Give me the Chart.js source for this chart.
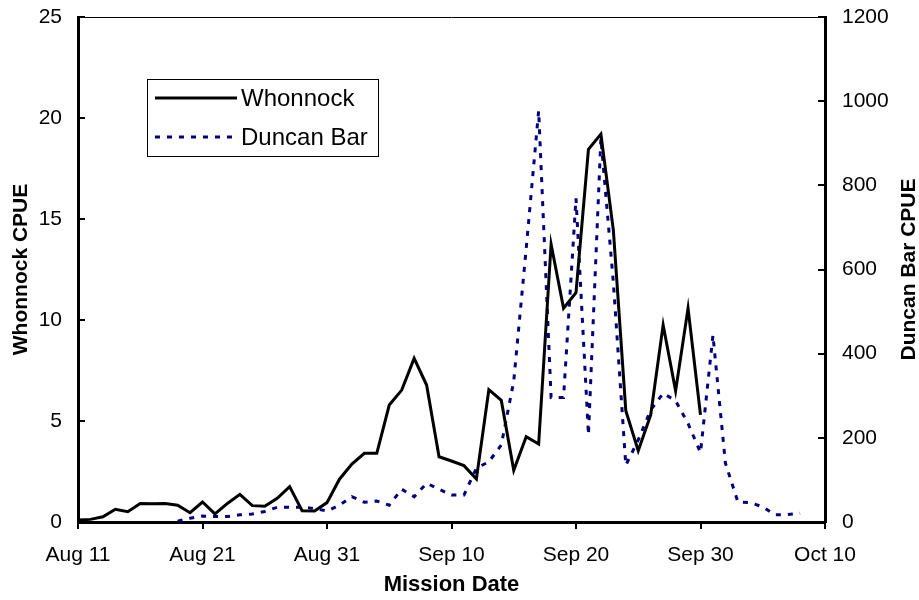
<!DOCTYPE html>
<html>
<head>
<meta charset="utf-8">
<script src="https://cdn.jsdelivr.net/npm/chart.js@4.4.1/dist/chart.umd.min.js"></script>
<style>
  html, body { margin: 0; padding: 0; background: #fff; }
  #wrap { width: 919px; height: 600px; position: relative; }
</style>
</head>
<body>
<div id="wrap"><canvas id="cpueChart"></canvas></div>
<script>
// ================== DATA ==================
const tickLabels = ["Aug 11", "Aug 21", "Aug 31", "Sep 10", "Sep 20", "Sep 30", "Oct 10"];
const seriesNames = ["Whonnock", "Duncan Bar"];

// daily values, day 0 = Aug 11
const whonnock = [
  0.1, 0.13, 0.26, 0.63, 0.51, 0.92, 0.9, 0.92, 0.83, 0.46,
  0.99, 0.4, 0.92, 1.37, 0.81, 0.78, 1.17, 1.75, 0.56, 0.54,
  0.96, 2.12, 2.87, 3.4, 3.4, 5.79, 6.53, 8.1, 6.78, 3.23,
  3.02, 2.79, 2.13, 6.55, 6.02, 2.56, 4.22, 3.86, 13.75, 10.58,
  11.35, 18.45, 19.2, 14.45, 5.51, 3.53, 5.3, 9.75, 6.49, 10.58,
  5.3
];

// Duncan Bar starts on day 8 (Aug 19)
const duncanStartDay = 8;
const duncanBar = [
  2, 9, 14, 13, 13, 17, 19, 25, 35, 35,
  35, 32, 26, 40, 60, 47, 50, 40, 78, 60,
  92, 78, 64, 64, 128, 143, 183, 335, 650, 977,
  296, 296, 769, 207, 912, 570, 135, 195, 266, 306,
  288, 234, 165, 444, 140, 48, 46, 36, 17, 18,
  21
];

const FONT = "'Liberation Sans', Arial, Helvetica, sans-serif";

// fixed axis box sizes so the plot sits where the original does
function fitVertical(width) {
  return (s) => {
    s.width = width;
    s.paddingTop = 0;
    s.paddingBottom = 0;
  };
}

// ================== PLUGIN: frame, inner ticks, right title, legend ==================
const extrasPlugin = {
  id: "extras",
  afterDraw(chart) {
    const { ctx, chartArea: area, scales } = chart;
    ctx.save();

    // thin top border
    ctx.strokeStyle = "#000";
    ctx.lineWidth = 1;
    ctx.beginPath();
    ctx.moveTo(area.left, area.top + 0.5);
    ctx.lineTo(area.right, area.top + 0.5);
    ctx.stroke();

    // inward tick marks on both y axes
    ctx.lineWidth = 2;
    scales.y.ticks.forEach((t) => {
      const py = Math.round(scales.y.getPixelForValue(t.value));
      ctx.beginPath();
      ctx.moveTo(area.left, py);
      ctx.lineTo(area.left + 7, py);
      ctx.stroke();
    });
    scales.y2.ticks.forEach((t) => {
      const py = Math.round(scales.y2.getPixelForValue(t.value));
      ctx.beginPath();
      ctx.moveTo(area.right - 7, py);
      ctx.lineTo(area.right, py);
      ctx.stroke();
    });

    // right axis title, reading bottom to top
    ctx.fillStyle = "#000";
    ctx.font = "bold 21px " + FONT;
    ctx.textAlign = "center";
    ctx.textBaseline = "middle";
    ctx.translate(909, (area.top + area.bottom) / 2);
    ctx.rotate(-Math.PI / 2);
    ctx.fillText("Duncan Bar CPUE", 0, 0);
    ctx.restore();

    // legend box
    ctx.save();
    ctx.fillStyle = "#fff";
    ctx.fillRect(147, 79, 231, 77);
    ctx.strokeStyle = "#000";
    ctx.lineWidth = 1;
    ctx.strokeRect(147.5, 79.5, 231, 77);

    const rows = [98, 137];
    chart.data.datasets.forEach((ds, i) => {
      const y = rows[i];
      ctx.strokeStyle = ds.borderColor;
      ctx.lineWidth = ds.borderWidth;
      ctx.setLineDash(ds.borderDash || []);
      ctx.beginPath();
      ctx.moveTo(155, y);
      ctx.lineTo(237, y);
      ctx.stroke();
      ctx.setLineDash([]);
      ctx.fillStyle = "#000";
      ctx.font = "24px " + FONT;
      ctx.textAlign = "left";
      ctx.textBaseline = "middle";
      ctx.fillText(ds.label, 241, y + 1);
    });
    ctx.restore();
  },
};

// ================== CHART ==================
const ctx = document.getElementById("cpueChart");

new Chart(ctx, {
  type: "line",
  data: {
    datasets: [
      {
        label: seriesNames[0],
        data: whonnock.map((v, i) => ({ x: i, y: v })),
        borderColor: "#000000",
        borderWidth: 3,
        pointRadius: 0,
        tension: 0,
        yAxisID: "y",
      },
      {
        label: seriesNames[1],
        data: duncanBar.map((v, i) => ({ x: duncanStartDay + i, y: v })),
        borderColor: "#000080",
        borderWidth: 3,
        borderDash: [5, 7],
        pointRadius: 0,
        tension: 0,
        yAxisID: "y2",
      },
    ],
  },
  options: {
    responsive: true,
    maintainAspectRatio: false,
    animation: false,
    layout: { padding: { top: 17, left: 0, right: 0, bottom: 0 } },
    plugins: {
      legend: { display: false },
      tooltip: { enabled: false },
    },
    scales: {
      x: {
        type: "linear",
        min: 0,
        max: 60,
        afterFit: (s) => { s.height = 78; },
        afterBuildTicks: (s) => {
          s.ticks = tickLabels.map((_, i) => ({ value: i * 10 }));
        },
        ticks: {
          callback: (v) => tickLabels[v / 10],
          font: { family: FONT, size: 21 },
          color: "#000",
          padding: 14,
          maxRotation: 0,
          autoSkip: false,
        },
        grid: {
          drawOnChartArea: false,
          drawTicks: true,
          tickLength: 7,
          color: "#000",
          lineWidth: 2,
        },
        border: { display: true, color: "#000", width: 3 },
        title: {
          display: true,
          text: "Mission Date",
          font: { family: FONT, size: 22, weight: "bold" },
          color: "#000",
          padding: { top: 0, bottom: 2 },
        },
      },
      y: {
        position: "left",
        min: 0,
        max: 25,
        afterFit: fitVertical(78),
        ticks: {
          stepSize: 5,
          font: { family: FONT, size: 21 },
          color: "#000",
          padding: 16,
        },
        grid: { display: false, drawTicks: false },
        border: { display: true, color: "#000", width: 3 },
        title: {
          display: true,
          text: "Whonnock CPUE",
          font: { family: FONT, size: 21, weight: "bold" },
          color: "#000",
          padding: { top: 9, bottom: 0 },
        },
      },
      y2: {
        position: "right",
        min: 0,
        max: 1200,
        afterFit: fitVertical(94),
        ticks: {
          stepSize: 200,
          callback: (v) => String(v),
          font: { family: FONT, size: 21 },
          color: "#000",
          padding: 17,
        },
        grid: { display: false, drawTicks: false },
        border: { display: true, color: "#000", width: 3 },
      },
    },
  },
  plugins: [extrasPlugin],
});
</script>
</body>
</html>
